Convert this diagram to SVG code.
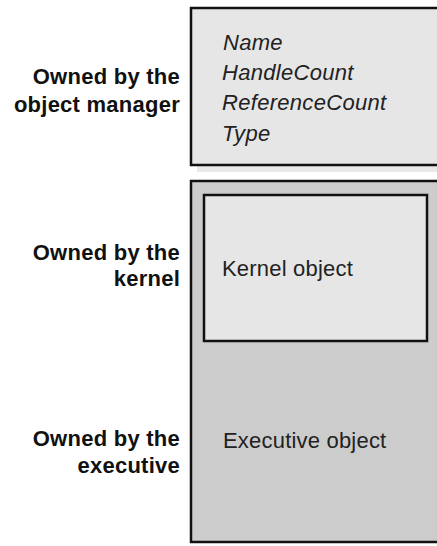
<svg xmlns="http://www.w3.org/2000/svg" width="437" height="546" viewBox="0 0 437 546">
  <style>
    .box { stroke: #111; stroke-width: 2.5; }
    .light { fill: #e6e6e6; }
    .dark { fill: #cccccc; }
    .shadow { fill: #e9e9e9; }
    .owner { font-family: "Liberation Sans", Arial, sans-serif; font-size: 22px; font-weight: bold; fill: #111; text-anchor: end; letter-spacing: 0.25px; }
    .field { font-family: "Liberation Sans", Arial, sans-serif; font-size: 22px; font-style: italic; fill: #222; letter-spacing: 0.3px; }
    .body { font-family: "Liberation Sans", Arial, sans-serif; font-size: 22px; fill: #222; letter-spacing: 0.2px; }
  </style>
  <rect width="437" height="546" fill="#ffffff"/>

  <!-- Object header (owned by the object manager) -->
  <g id="object-header">
    <rect class="shadow" x="197" y="14" width="260" height="158"/>
    <rect class="box light" x="191" y="8" width="260" height="157"/>
    <text class="field" x="223" y="50">Name</text>
    <text class="field" x="222" y="80">HandleCount</text>
    <text class="field" x="222" y="110">ReferenceCount</text>
    <text class="field" x="222" y="141">Type</text>
  </g>

  <!-- Executive object body with embedded kernel object -->
  <g id="executive-object">
    <rect class="box dark" x="191" y="181" width="260" height="361"/>
    <text class="body" x="223" y="448">Executive object</text>
  </g>
  <g id="kernel-object">
    <rect class="box light" x="204" y="195" width="223" height="146"/>
    <text class="body" x="222" y="276">Kernel object</text>
  </g>

  <!-- Ownership labels -->
  <g id="label-object-manager">
    <text class="owner" x="180" y="84">Owned by the</text>
    <text class="owner" x="180" y="112">object manager</text>
  </g>
  <g id="label-kernel">
    <text class="owner" x="180" y="260">Owned by the</text>
    <text class="owner" x="180" y="286">kernel</text>
  </g>
  <g id="label-executive">
    <text class="owner" x="180" y="446">Owned by the</text>
    <text class="owner" x="180" y="473">executive</text>
  </g>

  <g id="connectors"></g>
</svg>
